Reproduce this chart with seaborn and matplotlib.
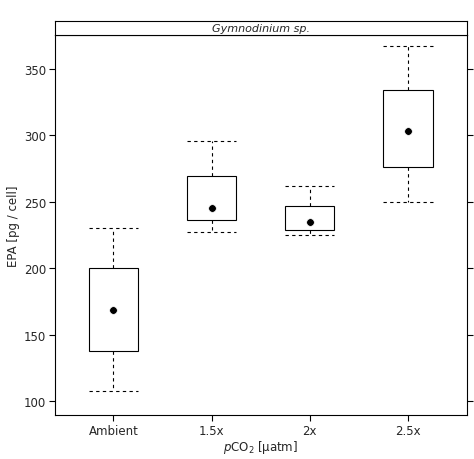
import matplotlib
matplotlib.use("Agg")
import matplotlib.pyplot as plt
import seaborn as sns
import pandas as pd

groups = ["Ambient", "1.5x", "2x", "2.5x"]
lows = [107.5, 227, 225, 250]
q1s = [138, 236, 228.7, 276]
medians = [168.5, 245, 234.7, 303]
q3s = [200, 269.6, 247, 334]
highs = [230, 295.7, 262, 367]

rows = []
for g, a, b, c, d, e in zip(groups, lows, q1s, medians, q3s, highs):
    for v in (a, b, c, d, e):
        rows.append({"grp": g, "EPA": v})
df = pd.DataFrame(rows)
med_df = pd.DataFrame({"grp": groups, "EPA": medians})

sns.set_style("white")
plt.rcParams['font.family'] = ['DejaVu Sans']
fig = plt.figure(figsize=(4.74, 4.6), dpi=100)
ax = fig.add_axes([0.115, 0.095, 0.87, 0.827])
sns.boxplot(data=df, x="grp", y="EPA", order=groups, whis=(0, 100), width=0.5,
            color="white", linecolor="black", linewidth=0.8, ax=ax,
            medianprops=dict(linewidth=0),
            whiskerprops=dict(linestyle=(0, (3, 3))),
            capprops=dict(linestyle=(0, (3, 3))), capwidths=0.5)
sns.scatterplot(data=med_df, x="grp", y="EPA", color="black", s=30, ax=ax, zorder=5)
ax.set_ylim(89.6, 375.3)
ax.set_xlim(-0.6, 3.6)
ax.set_yticks([100, 150, 200, 250, 300, 350])
ax.tick_params(axis="both", direction="out", length=4, labelsize=8.5,
               right=True, left=True, bottom=True, color="black", pad=2)
for s in ax.spines.values():
    s.set_color("black"); s.set_linewidth(0.8)
ax.set_ylabel("EPA [pg / cell]", fontsize=8.5, labelpad=3)
ax.set_xlabel(r"$p$CO$_2$ [µatm]", fontsize=8.5, labelpad=1)

sax = fig.add_axes([0.115, 0.922, 0.87, 0.03])
sax.set_xticks([]); sax.set_yticks([])
for s in sax.spines.values():
    s.set_color("black"); s.set_linewidth(0.8)
sax.text(0.5, 0.5, "Gymnodinium sp.", style="italic", fontsize=8,
         ha="center", va="center", transform=sax.transAxes)
fig.savefig("out.png", dpi=100)
